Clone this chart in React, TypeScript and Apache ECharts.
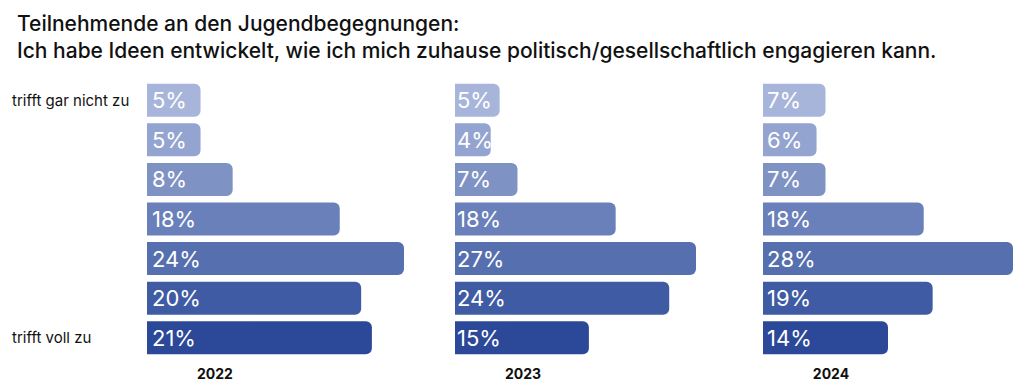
import React, { useEffect, useRef } from "react";
import * as echarts from "echarts";

const titleLines = [
  "Teilnehmende an den Jugendbegegnungen:",
  "Ich habe Ideen entwickelt, wie ich mich zuhause politisch/gesellschaftlich engagieren kann.",
];
const categories = ["trifft gar nicht zu", "2", "3", "4", "5", "6", "trifft voll zu"];
const years = ["2022", "2023", "2024"];
const values2022 = [5, 5, 8, 18, 24, 20, 21];
const values2023 = [5, 4, 7, 18, 27, 24, 15];
const values2024 = [7, 6, 7, 18, 28, 19, 14];
const barColors = ["#a8b5da", "#94a4d0", "#7f92c4", "#6a80ba", "#566fae", "#3f5ba4", "#2b4899"];

const FONT = "Inter, 'Noto Sans', sans-serif";

export default function App() {
  const ref = useRef<HTMLDivElement>(null);
  useEffect(() => {
    if (!ref.current) return;
    const chart = echarts.init(ref.current, undefined, { renderer: "svg" });
    const panels = [
      { data: values2022, left: 147, width: 257, max: 24, pad: 5 },
      { data: values2023, left: 455, width: 241, max: 27, pad: 2 },
      { data: values2024, left: 763, width: 250, max: 28, pad: 4 },
    ];
    const top = 80.5;
    const height = 277;
    chart.setOption({
      animation: false,
      title: {
        text: titleLines.join("\n"),
        left: 12,
        top: 5,
        textStyle: { fontFamily: FONT, fontSize: 21, fontWeight: 500, color: "#111", lineHeight: 27 },
      },
      grid: panels.map((p) => ({ left: p.left, width: p.width, top, height, containLabel: false })),
      xAxis: panels.map((p, i) => ({
        type: "value",
        gridIndex: i,
        min: 0,
        max: p.max,
        show: false,
      })),
      yAxis: panels.map((p, i) => ({
        type: "category",
        gridIndex: i,
        data: categories,
        inverse: true,
        axisLine: { show: false },
        axisTick: { show: false },
        splitLine: { show: false },
        axisLabel: {
          show: i === 0,
          align: "left",
          margin: 135,
          fontFamily: FONT,
          fontSize: 15,
          color: "#111",
          formatter: (v: string, idx: number) => (idx === 0 || idx === categories.length - 1 ? v : ""),
        },
      })),
      graphic: panels.map((p, i) => ({
        type: "text",
        x: p.left + 68,
        y: 373,
        style: {
          text: years[i],
          fontFamily: FONT,
          fontSize: 14,
          fontWeight: "bold",
          fill: "#111",
          align: "center",
          verticalAlign: "middle",
        },
      })),
      series: panels.map((p, i) => ({
        type: "bar",
        xAxisIndex: i,
        yAxisIndex: i,
        barWidth: 33,
        data: p.data.map((v, j) => ({
          value: v,
          itemStyle: { color: barColors[j], borderRadius: [0, 6, 6, 0] },
        })),
        label: {
          show: true,
          position: "insideLeft",
          distance: p.pad,
          formatter: "{c}%",
          color: "#fff",
          fontFamily: FONT,
          fontSize: 22,
          fontWeight: 400,
        },
      })),
    });
    return () => chart.dispose();
  }, []);
  return (
    <div
      ref={ref}
      style={{ position: "fixed", left: 0, top: 0, width: 1024, height: 392, background: "#fff" }}
    />
  );
}
